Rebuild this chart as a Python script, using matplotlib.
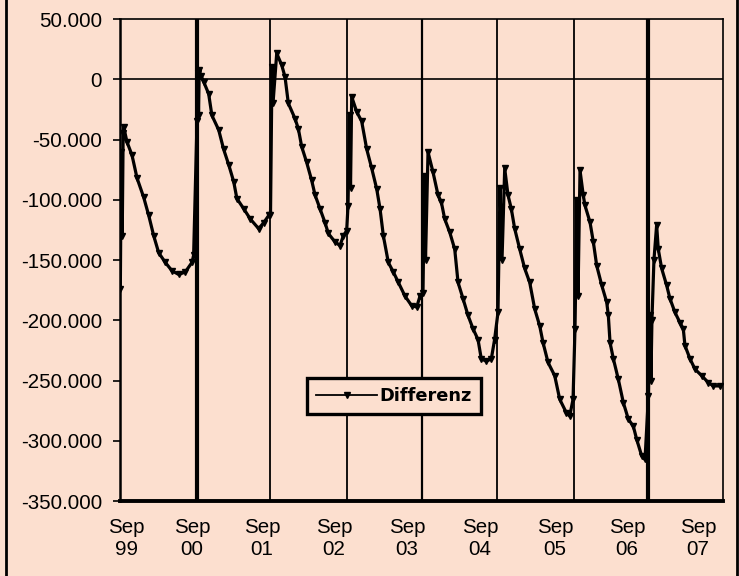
import numpy as np
import matplotlib
matplotlib.use("Agg")
import matplotlib.pyplot as plt
from matplotlib.ticker import FuncFormatter, FixedLocator
from matplotlib.lines import Line2D

# months since Sep 1999 and Differenz in thousands
months = [0.05, 0.2, 0.35, 0.5, 0.6, 1.11, 1.91, 2.71, 3.77, 4.57, 5.37, 6.16,
          7.21, 8.28, 9.35, 10.38, 11.46, 11.72,
          12.26, 12.42, 12.5, 12.61, 12.88, 13.31, 14.11, 14.63, 15.71, 16.49,
          17.31, 18.1, 18.61, 19.7, 20.75, 22.08, 22.88, 23.68,
          23.96, 24.2, 24.36, 24.95, 25.75, 26.27, 26.8, 27.86, 28.39, 28.93,
          29.72, 30.52, 31.05, 31.84, 32.64, 33.17, 34.23, 35.03, 35.55, 36.09,
          36.3, 36.54, 36.7, 36.89, 37.69, 38.48, 39.28, 40.08, 40.87, 41.4,
          41.93, 42.72, 43.52, 44.32, 45.38, 46.45, 47.24, 47.76,
          48.24, 48.48, 48.64, 49.04, 49.83, 50.63, 51.16, 51.7, 52.5, 53.29,
          53.82, 54.61, 55.41, 56.2, 57.0, 57.52, 58.32, 59.12, 59.64,
          60.18, 60.5, 60.82, 61.25, 61.77, 62.3, 62.84, 63.64, 64.43, 65.23,
          66.03, 66.82, 67.35, 68.15, 69.21, 70.01, 71.06, 71.6, 72.13,
          72.44, 72.76, 72.92, 73.24, 73.76, 74.03, 74.83, 75.36, 75.9, 76.7,
          77.49, 77.75, 78.02, 78.55, 79.34, 80.14, 80.93, 81.73, 82.27, 83.07,
          83.59,
          84.13, 84.37, 84.53, 84.69, 85.01, 85.44, 85.7, 86.24, 87.03, 87.56,
          88.36, 89.16, 89.68, 89.95, 90.75, 91.55, 92.61, 93.66, 94.46, 95.52]
differenz = [-174, -60, -130, -45, -40, -52, -63, -82, -98, -113, -130, -144,
             -152, -159, -162, -160, -152, -146,
             -35, 5, -30, 7.6, 3, -2, -12, -30, -42, -58,
             -71, -85, -99, -107.5, -116, -124, -119, -113,
             -113, 10, -20, 21.5, 11.7, 2, -20, -32.6, -41, -56,
             -69, -84, -96, -107.5, -119, -128, -135, -138, -130, -125.6,
             -105, -30, -90, -14.6, -27, -35, -58, -74, -91, -107.5,
             -130, -152, -160, -168.6, -180, -188, -189, -180,
             -177, -80, -150, -60.4, -77, -96, -102, -116, -127, -141,
             -168.6, -182, -196, -207, -216, -232, -234, -232, -216,
             -193.5, -90, -150, -74, -96, -107.5, -124, -141, -157, -168.6,
             -190.7, -204.6, -218.5, -235, -246, -265.6, -276.7, -279.5, -265.6,
             -207, -100, -180, -75.6, -96.4, -104.7, -118.6, -135, -154.7, -171,
             -185, -196, -218.5, -232, -249, -268.4, -282, -288, -299, -312.7,
             -315.5,
             -263, -196, -250, -200, -150, -121, -141, -157, -171, -182,
             -193.5, -202, -207, -221, -232, -240.6, -246, -251.7, -254.5, -254.5]

# yearly resets where the series runs off the chart
resets = [12.26, 23.88, 36.14, 48.08, 60.02, 72.28, 84.06]
reset_widths = [3.0, 1.3, 1.3, 1.6, 1.3, 1.3, 3.0]

tick_pos = [0.96, 11.46, 22.61, 34.07, 45.69, 57.32, 69.26, 80.72, 92.02]
tick_labels = ["Sep\n99", "Sep\n00", "Sep\n01", "Sep\n02", "Sep\n03",
               "Sep\n04", "Sep\n05", "Sep\n06", "Sep\n07"]

bg = "#fcdfcf"
plt.rcParams["font.family"] = ["Liberation Sans", "DejaVu Sans"]

fig = plt.figure(figsize=(7.39, 5.76), dpi=100, facecolor=bg)
ax = fig.add_axes([0.1624, 0.1302, 0.8159, 0.8368], facecolor=bg)

y = np.array(differenz) * 1000
ax.plot(months, y, color="black", lw=2.3, marker="v", ms=4.5,
        mfc="black", mec="black", label="Differenz", zorder=3)

for xr, w in zip(resets, reset_widths):
    ax.axvline(xr, color="black", lw=w, zorder=2)
ax.axhline(0, color="black", lw=1.2, zorder=2)

ax.set_xlim(0, 96)
ax.set_ylim(-350000, 50000)
ax.set_yticks(np.arange(-350000, 50001, 50000))
ax.yaxis.set_major_formatter(FuncFormatter(
    lambda v, p: f"{int(round(v)):,}".replace(",", ".")))
ax.xaxis.set_major_locator(FixedLocator(tick_pos))
ax.set_xticklabels(tick_labels)
ax.tick_params(axis="x", length=0, pad=12, labelsize=14.8)
ax.tick_params(axis="y", length=5, width=1.2, direction="out", pad=8,
               labelsize=14.8)

for side, w in [("left", 1.8), ("bottom", 2.8), ("top", 1.2), ("right", 1.2)]:
    ax.spines[side].set_linewidth(w)
    ax.spines[side].set_color("black")

leg = ax.legend(loc="center", bbox_to_anchor=(0.4545, 0.2175), frameon=True,
                fancybox=False, handlelength=3.4, borderpad=0.5,
                handletextpad=0.15, borderaxespad=0,
                prop={"family": "DejaVu Sans", "weight": "bold", "size": 12.8})
leg.get_frame().set_facecolor(bg)
leg.get_frame().set_edgecolor("black")
leg.get_frame().set_linewidth(2.4)
leg.get_frame().set_alpha(1)
leg.set_zorder(5)
for h in leg.get_lines():
    h.set_linewidth(1.3)
    h.set_markersize(4)

# outer frame of the picture
fig.add_artist(Line2D([6 / 739, 6 / 739], [0, 1], color="black", lw=2,
                      transform=fig.transFigure))
fig.add_artist(Line2D([737 / 739, 737 / 739], [0, 1], color="black", lw=2,
                      transform=fig.transFigure))

fig.savefig("out.png", dpi=100, facecolor=bg)
